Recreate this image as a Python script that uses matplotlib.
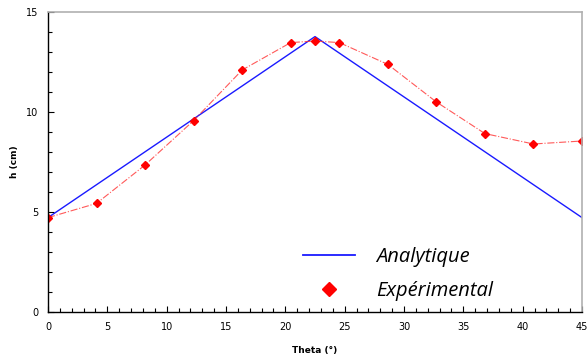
import matplotlib.pyplot as plt
from matplotlib.ticker import MultipleLocator
from matplotlib.lines import Line2D

# analytical solution (piecewise linear)
theta_ana = [0, 22.5, 45]
h_ana = [4.72, 13.77, 4.72]

# experimental points
theta_exp = [0, 4.09, 8.18, 12.27, 16.36, 20.45, 22.5, 24.55, 28.64, 32.73, 36.82, 40.91, 45]
h_exp = [4.72, 5.43, 7.35, 9.57, 12.1, 13.47, 13.55, 13.47, 12.38, 10.5, 8.92, 8.4, 8.55]


def main() -> None:
    fig = plt.figure(figsize=(5.88, 3.6), dpi=100)
    ax = fig.add_axes([48 / 588, 48 / 360, 534 / 588, 300 / 360])

    ax.plot(theta_ana, h_ana, color="#1a1aff", linewidth=1.0)
    ax.plot(theta_exp, h_exp, color="#ff3030", linewidth=0.8, linestyle="-.",
            alpha=0.8)
    ax.plot(theta_exp, h_exp, linestyle="none", marker="D", markersize=3.8,
            color="#ff0000")

    ax.set_xlim(0, 45)
    ax.set_ylim(0, 15)
    ax.xaxis.set_major_locator(MultipleLocator(5))
    ax.xaxis.set_minor_locator(MultipleLocator(1))
    ax.yaxis.set_major_locator(MultipleLocator(5))
    ax.yaxis.set_minor_locator(MultipleLocator(1))
    ax.tick_params(which="both", direction="in", labelsize=7, color="black")
    ax.tick_params(which="major", length=4, width=0.8, pad=7)
    ax.tick_params(which="minor", length=3, width=0.8)

    for side in ("top", "right"):
        ax.spines[side].set_color("#b0b0b0")
        ax.spines[side].set_linewidth(1.2)
    for side in ("left", "bottom"):
        ax.spines[side].set_color("black")
        ax.spines[side].set_linewidth(1.0)

    ax.set_xlabel("Theta (°)", fontsize=6.5, fontweight="bold", labelpad=10)
    ax.set_ylabel("h (cm)", fontsize=6.5, fontweight="bold", labelpad=5)

    handles = [
        Line2D([], [], color="#1a1aff", linewidth=1.3),
        Line2D([], [], linestyle="none", marker="D", markersize=7, color="#ff0000"),
    ]
    ax.legend(handles, ["Analytique", "Expérimental"], loc="lower left",
              bbox_to_anchor=(0.4775, 0.037), frameon=False, borderpad=0,
              borderaxespad=0,
              prop={"family": "Open Sans", "style": "italic", "size": 14.5},
              handlelength=2.6, handletextpad=1.05, labelspacing=0.7)

    fig.savefig("out.png", dpi=100)
    plt.close(fig)


if __name__ == "__main__":
    main()
